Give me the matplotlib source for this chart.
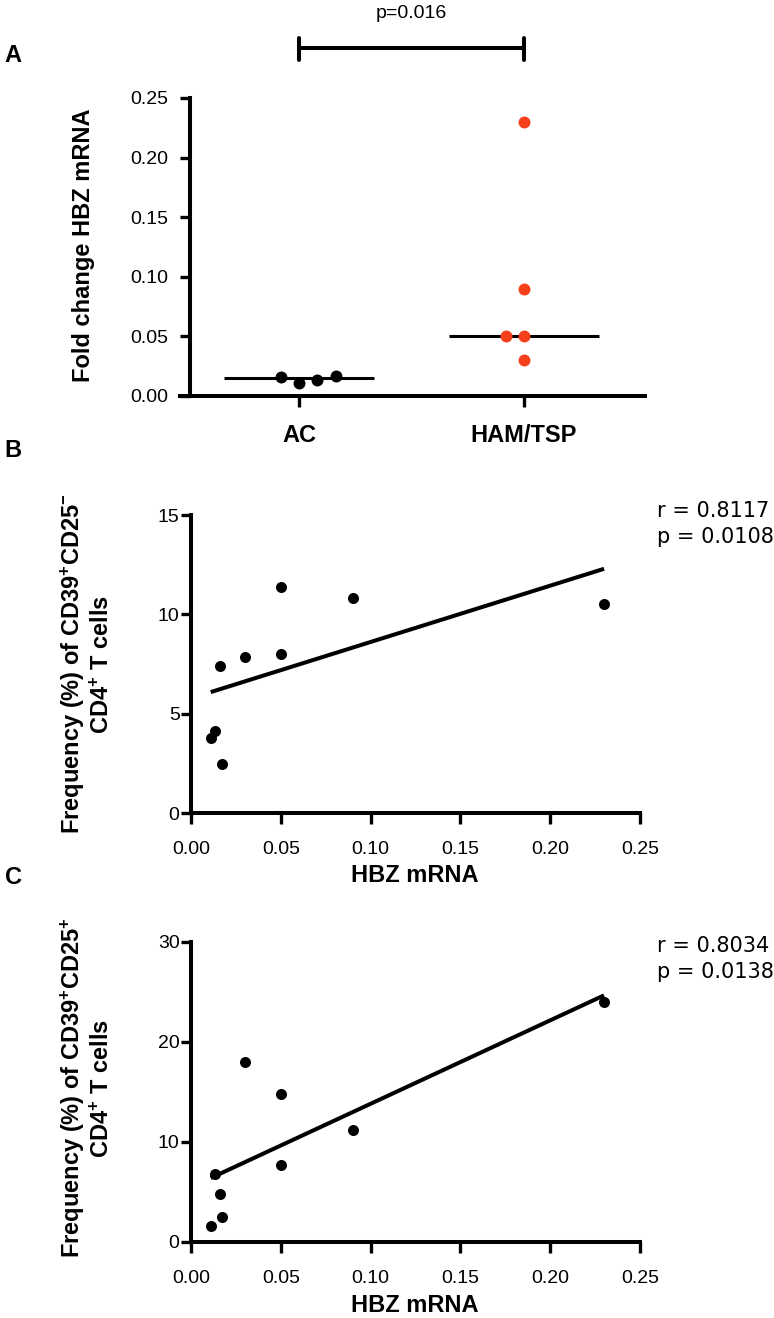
import numpy as np
import matplotlib
matplotlib.use("Agg")
import matplotlib.pyplot as plt

plt.rcParams['font.family'] = ['Liberation Sans', 'DejaVu Sans']
plt.rcParams['mathtext.fontset'] = 'custom'
plt.rcParams['mathtext.bf'] = 'Liberation Sans:bold'
plt.rcParams['mathtext.rm'] = 'Liberation Sans:bold'
plt.rcParams['mathtext.default'] = 'bf'

# ---------------- data ----------------
groups = ['AC', 'HAM/TSP']
ac_values = [0.016, 0.011, 0.0135, 0.017]
ham_values = [0.23, 0.09, 0.05, 0.05, 0.03]
ac_offsets = [-0.078, 0.0, 0.08, 0.163]
ham_offsets = [0.0, 0.0, -0.078, 0.0, 0.0]
p_groups = 'p=0.016'

hbz_mrna = [0.011, 0.0135, 0.016, 0.017, 0.03, 0.05, 0.05, 0.09, 0.23]
freq_cd25neg = [3.8, 4.15, 7.4, 2.45, 7.85, 8.0, 11.4, 10.8, 10.5]
freq_cd25pos = [1.6, 6.85, 4.8, 2.55, 18.0, 14.85, 7.75, 11.25, 24.0]
stats_b = ['r = 0.8117', 'p = 0.0108']
stats_c = ['r = 0.8034', 'p = 0.0138']

a_yticks = [0.0, 0.05, 0.10, 0.15, 0.20, 0.25]
b_yticks = [0, 5, 10, 15]
c_yticks = [0, 10, 20, 30]
hbz_xticks = [0.0, 0.05, 0.10, 0.15, 0.20, 0.25]

RED = '#f5401c'
W, H = 774, 1318
fig = plt.figure(figsize=(W / 100, H / 100), dpi=100)


def rect(l, r, t, b):
    return [l / W, 1 - b / H, (r - l) / W, (b - t) / H]


def style(ax):
    for s in ['top', 'right']:
        ax.spines[s].set_visible(False)
    for s in ['left', 'bottom']:
        ax.spines[s].set_linewidth(2.9)
        ax.spines[s].set_capstyle('projecting')


# ---------------- Panel A ----------------
axA = fig.add_axes(rect(180, 645, 98, 396))
style(axA)
axA.spines['left'].set_position(('axes', 10 / 465))
axA.set_xlim(-0.529, 1.538)
axA.set_ylim(0, 0.25)
axA.set_yticks(a_yticks)
axA.set_yticklabels(['%.2f' % v for v in a_yticks], fontsize=14)
axA.set_xticks([0, 1])
axA.set_xticklabels(groups, fontsize=17, fontweight='bold')
axA.tick_params(axis='y', direction='out', length=7.2, width=2.4, pad=8.5)
axA.tick_params(axis='x', direction='out', length=8, width=2.4, pad=12)

axA.scatter(np.array(ac_offsets) + 0, ac_values, s=74, color='black',
            zorder=3, linewidths=0)
axA.scatter(np.array(ham_offsets) + 1, ham_values, s=74, color=RED,
            zorder=3, linewidths=0)
for pos, vals in [(0, ac_values), (1, ham_values)]:
    axA.hlines(np.median(vals), pos - 0.333, pos + 0.333, color='black',
               lw=2.2, zorder=2)

yb = 0.25 + 50 / 1192
axA.plot([0, 1], [yb, yb], color='black', lw=2.9, clip_on=False,
         solid_capstyle='butt')
for xb in [0, 1]:
    axA.plot([xb, xb], [yb - 12 / 1192, yb + 10 / 1192], color='black',
             lw=2.9, clip_on=False, solid_capstyle='round')
axA.text(0.5, 0.25 + 85 / 1192, p_groups, ha='center', va='center',
         fontsize=14, clip_on=False)

fig.text(13 / W, 1 - 56 / H, 'A', fontsize=17, fontweight='bold',
         ha='center', va='center')
fig.text(84 / W, 1 - 245 / H, 'Fold change HBZ mRNA', fontsize=17,
         fontweight='bold', rotation=90, ha='center', va='center')


# ---------------- Panels B and C ----------------
def scatter_panel(t, b, yvals, yticks, ylabel, stats, letter, ly, sy):
    ax = fig.add_axes(rect(191, 640, t, b))
    style(ax)
    ax.set_xlim(0, 0.25)
    ax.set_ylim(0, yticks[-1])
    ax.set_xticks(hbz_xticks)
    ax.set_xticklabels(['%.2f' % v for v in hbz_xticks], fontsize=14)
    ax.set_yticks(yticks)
    ax.set_yticklabels([str(v) for v in yticks], fontsize=14)
    ax.tick_params(axis='y', direction='out', length=7.2, width=2.4, pad=1)
    ax.tick_params(axis='x', direction='out', length=8, width=2.4, pad=12)
    ax.scatter(hbz_mrna, yvals, s=63, color='black', zorder=3, linewidths=0)
    slope, intercept = np.polyfit(hbz_mrna, yvals, 1)
    xl = np.array([min(hbz_mrna), max(hbz_mrna)])
    ax.plot(xl, slope * xl + intercept, color='black', lw=2.9, zorder=2,
            solid_capstyle='butt')
    fig.text(415 / W, 1 - (b + 63) / H, 'HBZ mRNA', fontsize=17,
             fontweight='bold', ha='center', va='center')
    fig.text(86 / W, 1 - ly / H, ylabel, fontsize=17, fontweight='bold',
             rotation=90, ha='center', va='center', multialignment='center')
    fig.text(657 / W, 1 - sy / H, stats[0], fontsize=15, ha='left',
             va='center', family='DejaVu Sans')
    fig.text(657 / W, 1 - (sy + 26) / H, stats[1], fontsize=15, ha='left',
             va='center', family='DejaVu Sans')
    fig.text(13 / W, 1 - (t - 65) / H, letter, fontsize=17,
             fontweight='bold', ha='center', va='center')
    return ax


scatter_panel(515, 813, freq_cd25neg, b_yticks,
              'Frequency (%) of CD39$^{+}$CD25$^{-}$\nCD4$^{+}$ T cells',
              stats_b, 'B', 664, 511)
scatter_panel(942, 1242, freq_cd25pos, c_yticks,
              'Frequency (%) of CD39$^{+}$CD25$^{+}$\nCD4$^{+}$ T cells',
              stats_c, 'C', 1088, 946)

fig.savefig('out.png', dpi=100)
